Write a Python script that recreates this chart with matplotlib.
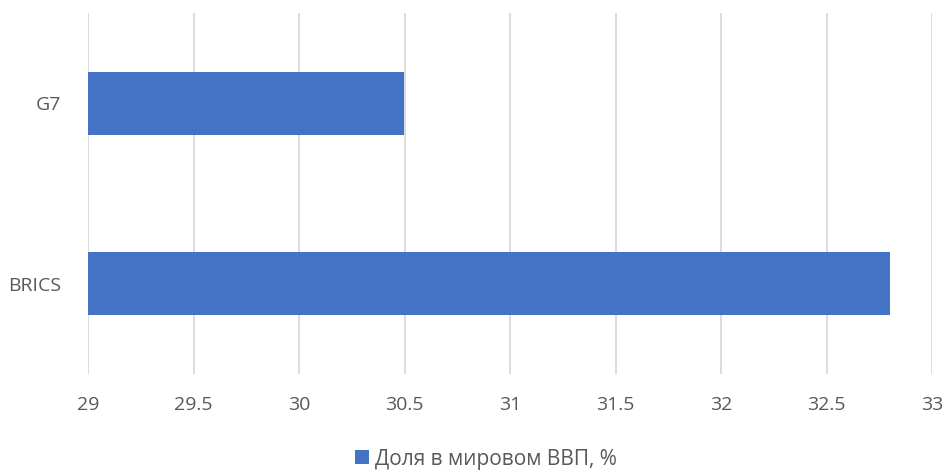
import matplotlib
matplotlib.use("Agg")
import matplotlib.pyplot as plt
import numpy as np
from matplotlib.patches import Patch

categories = ["BRICS", "G7"]
values = [32.8, 30.5]
series_name = "Доля в мировом ВВП, %"
xticks = [29, 29.5, 30, 30.5, 31, 31.5, 32, 32.5, 33]
xtick_labels = ["29", "29.5", "30", "30.5", "31", "31.5", "32", "32.5", "33"]

plt.rcParams['font.family'] = ['Open Sans', 'DejaVu Sans']
text_color = "#595959"
bar_color = "#4472C4"
grid_color = "#D9D9D9"

fig = plt.figure(figsize=(9.45, 4.70), dpi=100)
ax = fig.add_axes([88/945, 96/470, (932-88)/945, (374-13)/470])

y = np.arange(len(categories))
ax.barh(y, [v - 29 for v in values], left=29, height=0.35, color=bar_color, zorder=3)

ax.set_xlim(29, 33)
ax.set_ylim(-0.5, 1.5)
ax.set_xticks(xticks)
ax.set_xticklabels(xtick_labels)
ax.set_yticks(y)
ax.set_yticklabels(categories)
ax.tick_params(axis='both', length=0, labelsize=14, labelcolor=text_color)
ax.tick_params(axis='x', pad=16)
ax.tick_params(axis='y', pad=19)
for s in ax.spines.values():
    s.set_visible(False)
for xv in xticks:
    ax.axvline(xv, color=grid_color, lw=1.3, zorder=1)

handle = Patch(facecolor=bar_color, edgecolor='none')
fig.legend([handle], [series_name], loc='center', bbox_to_anchor=(486/945, 1 - 459/470),
           frameon=False, fontsize=15, labelcolor=text_color,
           handlelength=0.65, handleheight=0.65, handletextpad=0.3)

fig.savefig("out.png", dpi=100, facecolor="white")
